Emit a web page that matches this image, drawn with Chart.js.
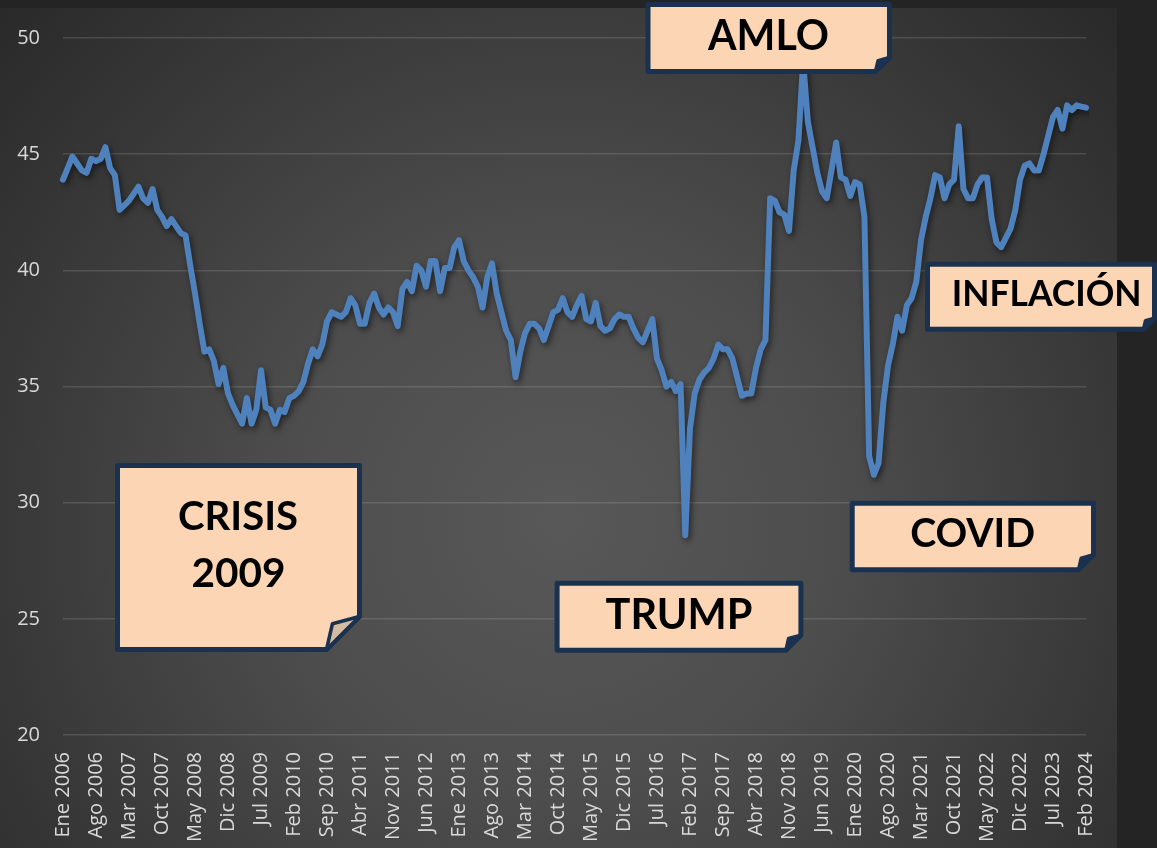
<!DOCTYPE html>
<html>
<head>
<meta charset="utf-8">
<script src="https://cdn.jsdelivr.net/npm/chart.js@4.4.1/dist/chart.umd.min.js"></script>
<style>
  html, body { margin: 0; padding: 0; background: #242424; overflow: hidden; }
  #wrap { width: 1157px; height: 848px; position: relative; }
  canvas { display: block; }
</style>
</head>
<body>
<div id="wrap"><canvas id="c" width="1157" height="848"></canvas></div>
<script>
// ---- data ----
const monthNames = ['Ene','Feb','Mar','Abr','May','Jun','Jul','Ago','Sep','Oct','Nov','Dic'];
const startYear = 2006;
const values = [
  43.9, 44.4, 44.9, 44.6, 44.3, 44.2, 44.8, 44.7, 44.8, 45.3, 44.4, 44.1,
  42.6, 42.8, 43.0, 43.3, 43.6, 43.1, 42.9, 43.5, 42.6, 42.3, 41.9, 42.2,
  41.9, 41.6, 41.5, 40.2, 39.0, 37.7, 36.5, 36.6, 36.1, 35.1, 35.8, 34.7,
  34.2, 33.8, 33.4, 34.5, 33.4, 34.0, 35.7, 34.1, 34.0, 33.4, 34.0, 33.9,
  34.5, 34.6, 34.8, 35.2, 36.0, 36.6, 36.3, 36.8, 37.8, 38.2, 38.1, 38.0,
  38.2, 38.8, 38.5, 37.7, 37.7, 38.6, 39.0, 38.4, 38.1, 38.4, 38.2, 37.6,
  39.2, 39.5, 39.1, 40.2, 40.0, 39.3, 40.4, 40.4, 39.1, 40.1, 40.1, 41.0,
  41.3, 40.4, 40.0, 39.7, 39.3, 38.4, 39.7, 40.3, 39.0, 38.2, 37.4, 37.0,
  35.4, 36.5, 37.3, 37.7, 37.7, 37.5, 37.0, 37.6, 38.2, 38.3, 38.8, 38.2,
  38.0, 38.5, 38.9, 37.9, 37.8, 38.6, 37.6, 37.4, 37.5, 37.9, 38.1, 38.0,
  38.0, 37.5, 37.1, 36.9, 37.4, 37.9, 36.2, 35.7, 35.0, 35.2, 34.8, 35.1,
  28.6, 33.2, 34.7, 35.3, 35.6, 35.8, 36.2, 36.8, 36.6, 36.6, 36.2, 35.4,
  34.6, 34.7, 34.7, 35.8, 36.6, 37.0, 43.1, 43.0, 42.5, 42.4, 41.7, 44.3,
  45.6, 49.0, 46.4, 45.3, 44.2, 43.4, 43.1, 44.3, 45.5, 44.0, 43.9, 43.2,
  43.8, 43.7, 42.3, 32.0, 31.2, 31.7, 34.3, 35.9, 36.8, 38.0, 37.4, 38.5,
  38.8, 39.5, 41.3, 42.3, 43.1, 44.1, 44.0, 43.1, 43.7, 43.9, 46.2, 43.5,
  43.1, 43.1, 43.7, 44.0, 44.0, 42.2, 41.2, 41.0, 41.4, 41.8, 42.6, 43.9,
  44.5, 44.6, 44.3, 44.3, 45.0, 45.8, 46.6, 46.9, 46.1, 47.1, 46.9, 47.1,
  47.05, 47.0
];
const categories = values.map((_, i) => monthNames[i % 12] + ' ' + (startYear + Math.floor(i / 12)));
const tickEvery = 7;
const yMin = 20, yMax = 50, yStep = 5;

// ---- callout boxes (decoration) ----
const callouts = [
  { lines: [{t:'CRISIS', cx:238, cy:515.5, w:120}, {t:'2009', cx:238.5, cy:572.5, w:94}], box:[115,463,362,652], fold:33 },
  { lines: [{t:'AMLO', cx:768.5, cy:34.5, w:121}], box:[645.5,2,892,74], fold:14 },
  { lines: [{t:'TRUMP', cx:679, cy:613.3, w:147}], box:[554.6,580.7,803.4,652.7], fold:15 },
  { lines: [{t:'COVID', cx:972.6, cy:532.5, w:125}], box:[849.7,500.7,1096,572.3], fold:15 },
  { lines: [{t:'INFLACIÓN', cx:1046.7, cy:293, w:190}], box:[925,261.7,1157,331.7], fold:11 }
];

const bgPlugin = {
  id: 'bg',
  beforeDraw(chart) {
    const ctx = chart.ctx;
    ctx.save();
    ctx.fillStyle = '#242424';
    ctx.fillRect(0, 0, chart.width, chart.height);
    const g = ctx.createRadialGradient(560, 520, 0, 560, 520, 790);
    g.addColorStop(0, '#585858');
    g.addColorStop(0.35, '#4d4d4d');
    g.addColorStop(1, '#272727');
    ctx.fillStyle = g;
    ctx.fillRect(0, 8, 1117, chart.height - 8);
    ctx.restore();
  }
};

const shadowPlugin = {
  id: 'lineShadow',
  beforeDatasetDraw(chart) {
    const ctx = chart.ctx;
    ctx.save();
    ctx.shadowColor = 'rgba(0,0,0,0.55)';
    ctx.shadowBlur = 6;
    ctx.shadowOffsetX = 2;
    ctx.shadowOffsetY = 3;
  },
  afterDatasetDraw(chart) {
    chart.ctx.restore();
  }
};

const calloutPlugin = {
  id: 'callouts',
  afterDraw(chart) {
    const ctx = chart.ctx;
    const lw = 5, h = lw / 2;
    const navy = '#1B3150';
    callouts.forEach(c => {
      const [L0, T0, R0, B0] = c.box;
      const L = L0 + h, T = T0 + h, R = R0 - h, B = B0 - h, f = c.fold;
      ctx.save();
      ctx.lineJoin = 'round';
      ctx.beginPath();
      ctx.moveTo(L, T);
      ctx.lineTo(R, T);
      ctx.lineTo(R, B - f);
      ctx.lineTo(R - f, B);
      ctx.lineTo(L, B);
      ctx.closePath();
      ctx.fillStyle = '#FCD5B4';
      ctx.fill();
      ctx.lineWidth = lw;
      ctx.strokeStyle = navy;
      ctx.stroke();
      // folded flap
      ctx.beginPath();
      ctx.moveTo(R - f, B);
      ctx.lineTo(R - f * 0.82, B - f * 0.78);
      ctx.lineTo(R, B - f);
      ctx.closePath();
      ctx.fillStyle = f > 20 ? '#D6BBA3' : navy;
      ctx.fill();
      ctx.lineWidth = 3.5;
      ctx.stroke();
      // text
      ctx.fillStyle = '#000000';
      ctx.textAlign = 'center';
      ctx.textBaseline = 'alphabetic';
      c.lines.forEach(ln => {
        ctx.font = 'bold 40px Lato';
        const w40 = ctx.measureText(ln.t).width;
        const size = 40 * ln.w / w40;
        ctx.font = 'bold ' + size.toFixed(2) + 'px Lato';
        const capH = ctx.measureText('H').actualBoundingBoxAscent;
        ctx.fillText(ln.t, ln.cx, ln.cy + capH / 2);
      });
      ctx.restore();
    });
  }
};

new Chart(document.getElementById('c'), {
  type: 'line',
  data: {
    labels: categories,
    datasets: [{
      data: values,
      borderColor: '#4F81BD',
      borderWidth: 6,
      borderJoinStyle: 'round',
      borderCapStyle: 'round',
      pointRadius: 0,
      tension: 0,
      fill: false
    }]
  },
  options: {
    responsive: false,
    animation: false,
    devicePixelRatio: 1,
    layout: { padding: { top: 38, right: 71, bottom: 0, left: 0 } },
    plugins: { legend: { display: false }, tooltip: { enabled: false } },
    scales: {
      x: {
        type: 'category',
        offset: false,
        grid: { display: false, drawTicks: false },
        border: { display: false },
        afterFit(scale) { scale.height = 113; },
        ticks: {
          autoSkip: false,
          maxRotation: 90,
          minRotation: 90,
          padding: 17,
          color: '#D9D9D9',
          font: { family: 'Open Sans', size: 20 },
          callback: (v, i) => (i % tickEvery === 0 ? categories[i] : '')
        }
      },
      y: {
        min: yMin,
        max: yMax,
        afterFit(scale) { scale.width = 63; },
        grid: { color: 'rgba(255,255,255,0.13)', lineWidth: 1.5, drawTicks: false },
        border: { display: false },
        ticks: {
          stepSize: yStep,
          padding: 23,
          color: '#D9D9D9',
          font: { family: 'Open Sans', size: 20 }
        }
      }
    }
  },
  plugins: [bgPlugin, shadowPlugin, calloutPlugin]
});
</script>
</body>
</html>
